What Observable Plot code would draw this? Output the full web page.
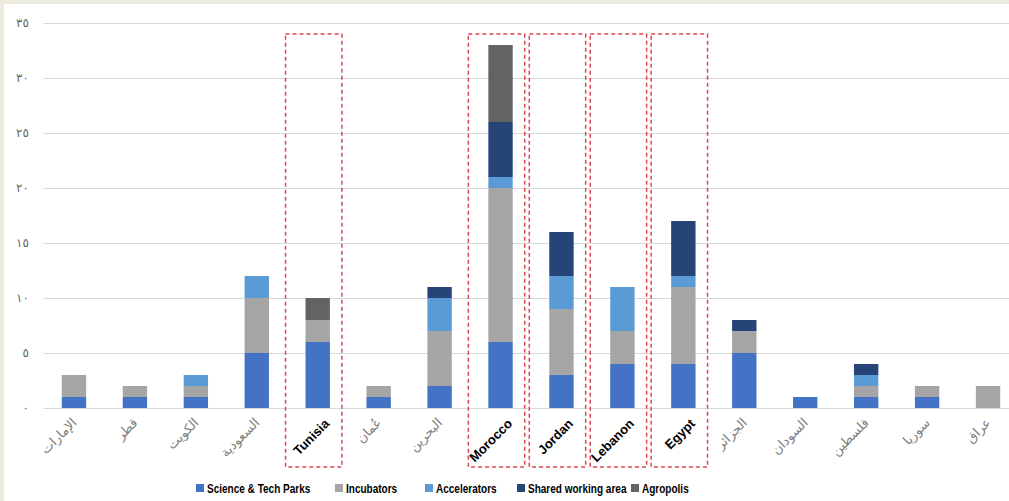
<!DOCTYPE html>
<html><head><meta charset="utf-8">
<script src="https://cdn.jsdelivr.net/npm/d3@7"></script>
<script src="https://cdn.jsdelivr.net/npm/@observablehq/plot@0.6"></script>
<style>
body{margin:0;background:#fff;font-family:'Liberation Sans',Arial,'DejaVu Sans',sans-serif;}
#wrap{position:relative;width:1009px;height:501px;background:#fff;border-left:4px solid #EEEBE0;border-top:4px solid #EEEBE0;box-sizing:border-box;overflow:hidden}
#chart{position:absolute;left:-4px;top:-4px}
#legend{position:absolute;left:-4px;top:474px;width:1009px;height:20px}
.item{position:absolute;top:0;display:flex;align-items:center;height:20px;white-space:nowrap}
.sw{width:8px;height:8px;margin-right:3px;flex:none}
.lbl{display:inline-block;font-weight:bold;font-size:13px;color:#000;transform:scaleX(0.77);transform-origin:0 50%}
</style></head>
<body><div id="wrap"><div id="chart"></div><div id="legend"></div></div>
<script>
const countries = ["الإمارات","قطر","الكويت","السعودية","Tunisia","عُمان","البحرين","Morocco","Jordan","Lebanon","Egypt","الجزائر","السودان","فلسطين","سوريا","عراق"];
const highlighted = ["Tunisia","Morocco","Jordan","Lebanon","Egypt"];
const series = ["Science & Tech Parks","Incubators","Accelerators","Shared working area","Agropolis"];
const colors = ["#4472C4","#A5A5A5","#5B9BD5","#264478","#636363"];
const scienceTechParks  = [1,1,1,5,6,1,2,6,3,4,4,5,1,1,1,0];
const incubators        = [2,1,1,5,2,1,5,14,6,3,7,2,0,1,1,2];
const accelerators      = [0,0,1,2,0,0,3,1,3,4,1,0,0,1,0,0];
const sharedWorkingArea = [0,0,0,0,0,0,1,5,4,0,5,1,0,1,0,0];
const agropolis         = [0,0,0,0,2,0,0,7,0,0,0,0,0,0,0,0];
const yTicks = [0,5,10,15,20,25,30,35];
const yTickLabels = ["٠","٥","١٠","١٥","٢٠","٢٥","٣٠","٣٥"];

const seriesValues = [scienceTechParks, incubators, accelerators, sharedWorkingArea, agropolis];
const rows = [];
countries.forEach((c, i) => {
  series.forEach((s, j) => {
    const v = seriesValues[j][i];
    if (v > 0) rows.push({country: c, series: s, value: v});
  });
});

const plot = Plot.plot({
  width: 1009, height: 475,
  marginTop: 23, marginBottom: 67, marginLeft: 43.5, marginRight: -9.5,
  style: {fontFamily: "'Liberation Sans', Arial, 'DejaVu Sans', sans-serif", background: "transparent", overflow: "hidden"},
  x: {domain: countries, paddingInner: 0.6, paddingOuter: 0.3, round: false, axis: null},
  y: {domain: [0, 35]},
  color: {domain: series, range: colors},
  marks: [
    Plot.gridY(yTicks, {stroke: "#d9d9d9", strokeOpacity: 1, strokeWidth: 1}),
    Plot.axisY({ticks: yTicks, tickSize: 0, tickPadding: 15, fontSize: 12, fill: "#666",
      tickFormat: d => yTickLabels[yTicks.indexOf(d)], label: null}),
    Plot.barY(rows, {x: "country", y: "value", fill: "series", order: series}),
    Plot.cell(highlighted, {x: d => d, fill: "none", stroke: "#E0464F", strokeWidth: 1.5,
      strokeDasharray: "4,3", insetTop: 11, insetBottom: -59, insetLeft: -20, insetRight: -12}),
    Plot.text(countries.filter(c => !highlighted.includes(c)), {x: d => d, frameAnchor: "bottom",
      rotate: -45, textAnchor: "end", dx: 3, dy: 15, fill: "#808080", fontSize: 13,
      fontFamily: "'DejaVu Sans', sans-serif"}),
    Plot.text(highlighted, {x: d => d, frameAnchor: "bottom", rotate: -45, textAnchor: "end",
      dx: 12, dy: 16, fill: "#000", fontSize: 13, fontWeight: "bold"})
  ]
});
document.getElementById("chart").appendChild(plot);

const legendLeft = [196, 335, 425, 517, 631];
const lg = document.getElementById("legend");
series.forEach((s, i) => {
  const it = document.createElement("div");
  it.className = "item";
  it.style.left = legendLeft[i] + "px";
  const sw = document.createElement("span");
  sw.className = "sw";
  sw.style.background = colors[i];
  const t = document.createElement("span");
  t.className = "lbl";
  t.textContent = s;
  it.appendChild(sw);
  it.appendChild(t);
  lg.appendChild(it);
});
</script></body></html>
